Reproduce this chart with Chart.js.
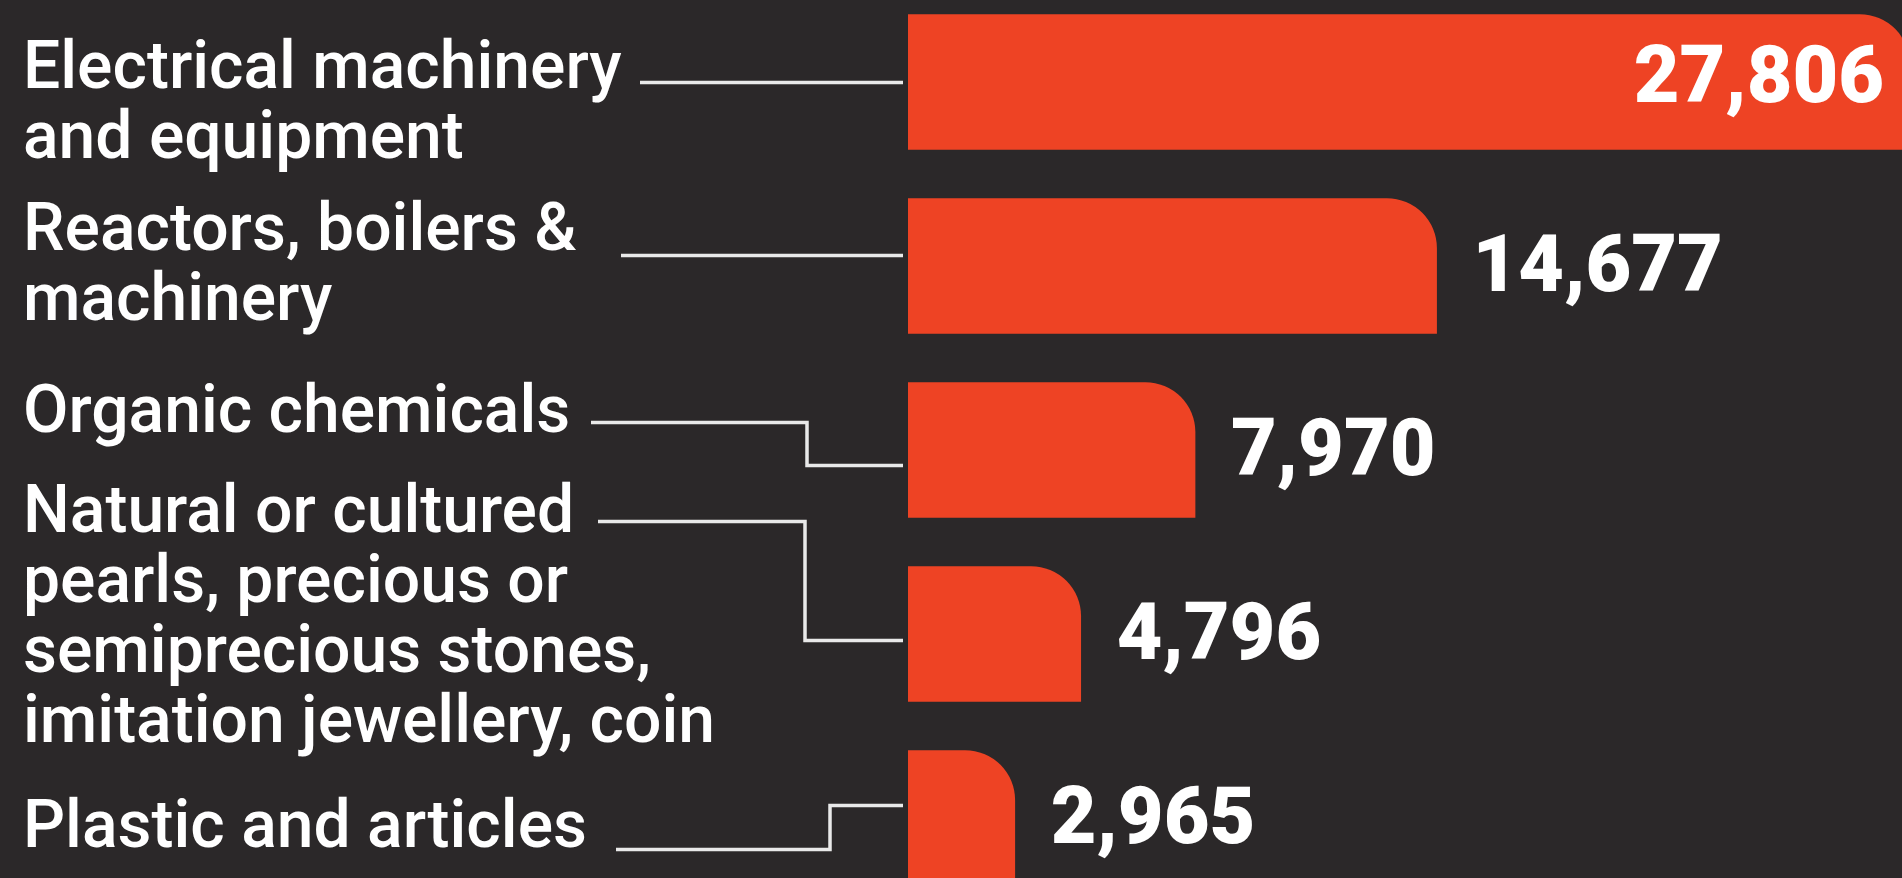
<!DOCTYPE html>
<html>
<head>
<meta charset="utf-8">
<script src="https://cdn.jsdelivr.net/npm/chart.js@4"></script>
<style>
  html, body {
    margin: 0;
    padding: 0;
    background: #2b2829;
    overflow: hidden;
  }
  #wrap {
    position: absolute;
    left: 0;
    top: -10px;
    width: 1902px;
    height: 920px;
  }
</style>
</head>
<body>
<div id="wrap"><canvas id="exports-chart"></canvas></div>
<script>
const categories = [
  ['Electrical machinery', 'and equipment'],
  ['Reactors, boilers &', 'machinery'],
  ['Organic chemicals'],
  ['Natural or cultured', 'pearls, precious or', 'semiprecious stones,', 'imitation jewellery, coin'],
  ['Plastic and articles']
];
const values = [27806, 14677, 7970, 4796, 2965];
const valueLabels = ['27,806', '14,677', '7,970', '4,796', '2,965'];

// where each category's text block and leader line sit, relative to its bar centre
const labelLayout = [
  { baseline: 5.5,    start: 640, startY: 0.5,    elbow: null, endY: 0.5 },
  { baseline: -16.5,  start: 621, startY: -10.5,  elbow: null, endY: -10.5 },
  { baseline: -18.5,  start: 591, startY: -27.5,  elbow: 807,  endY: 15.5 },
  { baseline: -102.5, start: 598, startY: -112.5, elbow: 805,  endY: 6.5 },
  { baseline: 28.5,   start: 616, startY: 31.5,   elbow: 830,  endY: -12.5 }
];

const BAR_COLOR = '#ee4324';
const TEXT_COLOR = '#ffffff';
const LINE_COLOR = '#e9e9e9';

const sideLabels = {
  id: 'sideLabels',
  afterDatasetsDraw(chart) {
    const ctx = chart.ctx;
    const xScale = chart.scales.x;
    const yScale = chart.scales.y;
    const meta = chart.getDatasetMeta(0);

    ctx.save();

    // category names, left aligned
    ctx.fillStyle = TEXT_COLOR;
    ctx.font = '500 66px Roboto';
    ctx.textAlign = 'left';
    ctx.textBaseline = 'alphabetic';
    categories.forEach((lines, i) => {
      const cy = yScale.getPixelForValue(i);
      const lay = labelLayout[i];
      lines.forEach((line, j) => {
        ctx.fillText(line, 23, cy + lay.baseline + j * 70);
      });
    });

    // leader lines from the names to the bars
    ctx.strokeStyle = LINE_COLOR;
    ctx.lineWidth = 3.5;
    ctx.lineJoin = 'miter';
    categories.forEach((lines, i) => {
      const cy = yScale.getPixelForValue(i);
      const lay = labelLayout[i];
      const endX = xScale.left - 5;
      ctx.beginPath();
      ctx.moveTo(lay.start, cy + lay.startY);
      if (lay.elbow !== null) {
        ctx.lineTo(lay.elbow, cy + lay.startY);
        ctx.lineTo(lay.elbow, cy + lay.endY);
      }
      ctx.lineTo(endX, cy + lay.endY);
      ctx.stroke();
    });

    // value figures: beside the bar, or inside it when it runs off the edge
    ctx.font = '900 79px Roboto';
    ctx.textBaseline = 'alphabetic';
    meta.data.forEach((bar, i) => {
      const text = valueLabels[i];
      const w = ctx.measureText(text).width;
      const barEnd = Math.min(bar.x, chart.width);
      if (barEnd + 36 + w > chart.width) {
        ctx.textAlign = 'right';
        ctx.fillText(text, barEnd - 18, bar.y + 20);
      } else {
        ctx.textAlign = 'left';
        ctx.fillText(text, bar.x + 36, bar.y + 25);
      }
    });

    ctx.restore();
  }
};

function renderExportsChart() {
  const data = {
    labels: categories,
    datasets: [{
      data: values,
      backgroundColor: BAR_COLOR,
      borderWidth: 0,
      borderSkipped: 'start',
      borderRadius: { topLeft: 0, topRight: 50, bottomLeft: 0, bottomRight: 0 },
      barThickness: 135
    }]
  };

  const config = {
    type: 'bar',
    data: data,
    options: {
      indexAxis: 'y',
      responsive: true,
      maintainAspectRatio: false,
      animation: false,
      layout: {
        padding: { left: 908, right: 0, top: 0, bottom: 0 }
      },
      scales: {
        x: { display: false, min: 0, max: 27600 },
        y: { display: false }
      },
      plugins: {
        legend: { display: false },
        tooltip: { enabled: false }
      }
    },
    plugins: [sideLabels]
  };

  new Chart(document.getElementById('exports-chart'), config);
}

renderExportsChart();
</script>
</body>
</html>
